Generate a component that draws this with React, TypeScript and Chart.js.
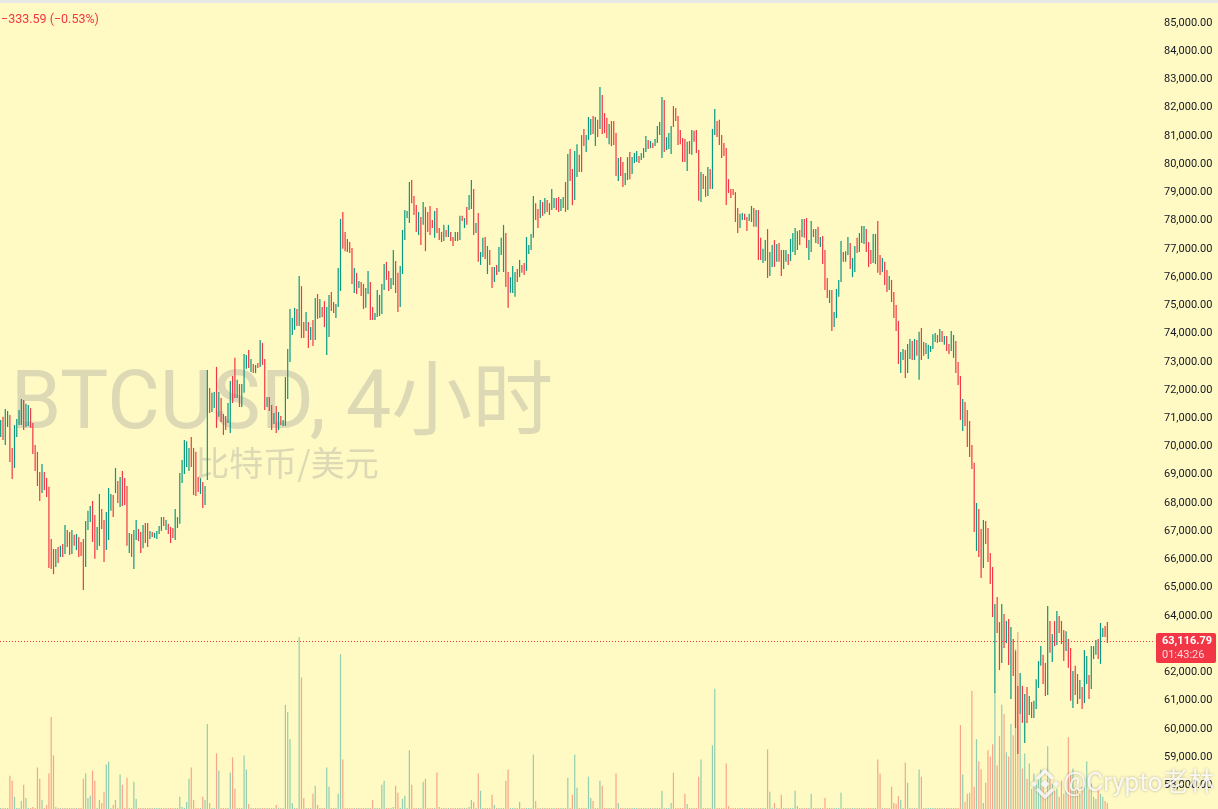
import React, { useEffect, useRef } from "react";
import { Chart, registerables } from "chart.js";

Chart.register(...registerables);

// ---- data (4h BTCUSD candles, oldest -> newest) ----
const highs = [
  70940, 71050, 71330, 71260, 71120, 69950, 70760, 70970, 71290, 71680,
  71650, 71510, 71470, 71360, 70830, 70050, 69810, 69100, 69380, 69100,
  68880, 68570, 66720, 66370, 66370, 66440, 66480, 66550, 67220, 67040,
  66970, 67040, 66870, 66900, 66790, 66620, 66720, 67360, 67720, 67890,
  68070, 67570, 67150, 68320, 67790, 67400, 67680, 68530, 68320, 68280,
  69240, 68780, 68920, 69130, 68880, 68600, 66940, 66900, 67040, 67400,
  67080, 66970, 67220, 67290, 67290, 67010, 66970, 66940, 67010, 67180,
  67500, 67500, 67400, 67260, 67150, 67110, 67790, 67500, 69060, 69520,
  70230, 70190, 69950, 70340, 69950, 69810, 68920, 68880, 68740, 68600,
  72710, 72070, 71900, 71930, 72820, 71930, 71720, 71150, 71080, 71540,
  72320, 72500, 73140, 72360, 72210, 72210, 73280, 73240, 73420, 73100,
  72920, 72890, 72960, 73770, 73670, 73100, 71750, 71750, 71470, 71190,
  71430, 71220, 71080, 70940, 72460, 73450, 74870, 74550, 74910, 74870,
  76040, 75680, 74410, 74760, 74410, 74230, 74480, 75260, 75400, 75220,
  74940, 75150, 74940, 75370, 75470, 75120, 75050, 76320, 78060, 78310,
  77600, 77350, 77240, 77030, 76320, 76150, 75860, 75830, 75760, 75610,
  76220, 75830, 74940, 74730, 75540, 75370, 75760, 76460, 76540, 76220,
  75970, 76960, 76570, 76150, 76390, 77670, 78380, 78340, 79370, 79440,
  78870, 78550, 78310, 78130, 78660, 78480, 78310, 78520, 78020, 78340,
  78450, 77740, 77600, 77850, 77670, 77850, 77600, 77420, 77600, 77600,
  78170, 78170, 78090, 78480, 78910, 79440, 79120, 77920, 78270, 76890,
  77390, 77420, 77100, 76960, 76360, 76360, 76430, 77070, 77390, 77850,
  77560, 76180, 76000, 76390, 76180, 76290, 76610, 76430, 76500, 77420,
  77140, 77530, 78870, 78620, 78410, 78730, 78660, 78800, 78730, 78620,
  79120, 78800, 78800, 78840, 78770, 78840, 79370, 80360, 80540, 79830,
  80470, 80710, 80330, 81030, 81250, 81030, 81670, 81600, 81710, 81670,
  81570, 82730, 82450, 81810, 81640, 81420, 81530, 81530, 81100, 80220,
  80250, 80080, 79690, 80250, 80430, 80250, 80400, 80470, 80290, 80400,
  80570, 81000, 80860, 80820, 80750, 80890, 81350, 81490, 82380, 82270,
  80960, 81100, 81350, 82060, 81990, 81710, 81210, 80930, 80890, 80790,
  80820, 81210, 81180, 81210, 80500, 79720, 79650, 79580, 79900, 79830,
  81250, 81950, 81530, 81570, 81030, 80750, 80570, 79470, 79120, 79120,
  79010, 78450, 78240, 78270, 78240, 78130, 78240, 78520, 78450, 78380,
  78380, 77390, 77000, 77310, 77700, 76890, 77140, 77310, 77170, 77210,
  76960, 76960, 76960, 76820, 77350, 77560, 77740, 77630, 77670, 78060,
  78060, 78090, 77310, 77990, 77700, 77700, 77780, 77420, 77460, 76960,
  75970, 75540, 75540, 74760, 75580, 75900, 77280, 76890, 76920, 77420,
  77210, 76680, 77100, 77390, 77560, 77810, 77810, 77700, 77240, 76960,
  77530, 77530, 77990, 76780, 76680, 76540, 76250, 76040, 75900, 75470,
  75010, 74450, 73350, 73450, 73420, 73630, 73810, 73740, 73810, 73770,
  74060, 74200, 73700, 73670, 73600, 73560, 73980, 74020, 73950, 74160,
  74090, 73910, 73910, 73630, 74090, 73950, 73740, 72990, 72500, 71680,
  71580, 71290, 70900, 70050, 69420, 68000, 67790, 67080, 67400, 67360,
  67110, 66230, 65730, 64420, 64670, 63780, 64420, 64070, 63820, 63890,
  63610, 63180, 62760, 61520, 61980, 61520, 61230, 61480, 61160, 60950,
  60990, 61760, 62400, 62930, 62620, 62330, 64350, 63820, 63360, 63820,
  64170, 64000, 63820, 63500, 63460, 63180, 62860, 62050, 62230, 61940,
  61730, 61480, 62790, 62580, 61910, 62930, 62930, 63150, 63180, 63750,
  63570, 63640, 63780,
];

const lows = [
  70340, 70230, 70050, 70690, 69450, 68850, 69240, 70340, 70760, 70760,
  70580, 70690, 70730, 70660, 69730, 69130, 68600, 68070, 68350, 68460,
  68210, 65700, 65660, 65480, 65730, 65870, 66090, 66090, 66190, 66440,
  66160, 66190, 66480, 66330, 66090, 66120, 64920, 65730, 67040, 67330,
  66620, 66020, 66330, 66480, 67080, 65910, 66330, 66690, 67720, 67500,
  68350, 68000, 67860, 67890, 67930, 66480, 66230, 66090, 65660, 66690,
  66650, 66230, 66400, 66580, 66440, 66720, 66790, 66760, 66720, 66900,
  67010, 67180, 67040, 66900, 66580, 66760, 66690, 67110, 67260, 68710,
  69030, 69270, 69130, 69270, 68280, 68250, 68390, 68320, 67820, 67930,
  68810, 71190, 71220, 71360, 70660, 71050, 70870, 70410, 70580, 70830,
  70480, 71540, 71720, 71720, 71400, 71400, 71900, 72750, 72780, 72640,
  72600, 72600, 72780, 72820, 72890, 71290, 71400, 71260, 70580, 70800,
  70480, 70580, 70760, 70730, 70730, 71680, 72990, 73950, 74130, 74270,
  74270, 73840, 73840, 74090, 73490, 73770, 73560, 73770, 74520, 74550,
  74590, 74230, 73240, 73880, 74800, 74730, 74550, 74940, 75510, 77000,
  76920, 76890, 76850, 75760, 75440, 75400, 75610, 75330, 74870, 74910,
  75400, 74480, 74480, 74480, 74590, 74620, 74690, 75540, 75900, 75510,
  75580, 75720, 75440, 74760, 74940, 76110, 77310, 78090, 77920, 78620,
  78200, 77600, 77490, 77140, 77850, 76920, 77600, 77490, 77740, 77390,
  77560, 77310, 77240, 77280, 77420, 77420, 77280, 77100, 77280, 77280,
  77310, 77990, 77740, 77850, 78380, 78410, 77490, 77560, 76540, 76430,
  76710, 76640, 76110, 76430, 75610, 75830, 76070, 76180, 76780, 76180,
  75650, 74910, 75440, 75440, 75300, 75830, 76000, 76150, 76070, 76220,
  76820, 76960, 77390, 78020, 77740, 78090, 78170, 78240, 78310, 78200,
  78380, 78450, 78380, 78310, 78340, 78450, 78310, 78380, 79400, 78550,
  78730, 79550, 79720, 79720, 80640, 80430, 80860, 81030, 81070, 80640,
  80960, 81250, 81070, 81100, 80930, 80710, 80640, 80680, 79580, 79400,
  79580, 79190, 79260, 79440, 79470, 79650, 80040, 80080, 80040, 80150,
  80220, 80430, 80540, 80570, 80570, 80640, 80750, 81030, 80220, 80430,
  80500, 80540, 80360, 81320, 81530, 80680, 80710, 80080, 80080, 79760,
  80360, 80330, 80790, 80400, 78700, 78660, 79120, 78840, 78870, 79120,
  79120, 81030, 80960, 80680, 80220, 80290, 78550, 78980, 78800, 78910,
  77950, 77560, 77740, 78020, 78020, 77630, 77990, 77950, 77780, 77780,
  76610, 76610, 76500, 76570, 75970, 76040, 76360, 76360, 76540, 76540,
  76040, 76290, 76540, 76430, 76570, 76890, 76780, 76960, 77140, 77420,
  77390, 77030, 76610, 76890, 77420, 77210, 77170, 77070, 76460, 75540,
  75260, 75080, 74090, 74230, 74550, 75300, 75830, 76540, 76540, 76780,
  76290, 76000, 76180, 76850, 76890, 77210, 77170, 76890, 76360, 76460,
  76500, 76460, 76150, 76070, 76180, 75720, 75470, 75540, 75120, 74550,
  74090, 72920, 72600, 73060, 72430, 72600, 73100, 73060, 73060, 73210,
  72360, 73060, 73210, 73280, 73100, 73350, 73450, 73700, 73670, 73700,
  73700, 73600, 73380, 73280, 73380, 73140, 72600, 72180, 70940, 70550,
  70730, 69980, 69630, 69200, 66970, 66300, 66090, 65340, 65700, 66550,
  65910, 65130, 63960, 61270, 63390, 62080, 62330, 62860, 63040, 62260,
  61060, 61870, 60030, 59110, 60530, 60210, 59500, 60210, 60490, 60380,
  60380, 60700, 61450, 62230, 61590, 61160, 61200, 62690, 62370, 62930,
  62970, 63390, 63000, 62400, 62760, 62160, 60990, 60740, 61200, 60880,
  61060, 60700, 60910, 61590, 61060, 61410, 62470, 62620, 62470, 62300,
  63250, 63250, 63040,
];

// U = close above open, D = close below open
const trend =
  "UDUUDDUUUU" + "DUUDDDDDUD" + "DDDDUDUDUD" + "DUDUDDDUUU" + "DDUUDDUUUD" +
  "UDUDDDUDUU" + "DDUDDUDUUU" + "UDUDDDUUUU" + "UUUDDDDUDU" + "UDUUDUDDDU" +
  "UDDUDUUUDU" + "DUDUDDUDDU" + "DUDUUUUUUD" + "UDDUDUDUDU" + "DDUUDDUUUD" +
  "DDDDUDUDDU" + "UDDUUUUUDD" + "UUDDUUUUUD" + "DDUDUDDDDU" + "DDDUDUDDUD" +
  "UDUDUUDUDU" + "UDUDDUDUUU" + "DDUUUDUDDU" + "UUUDDUDUDD" + "UUDDUUDUDD" +
  "UUDDDUUUDU" + "DUDDDUDDDU" + "DDUUDUUUDU" + "UUDUDUUUUD" + "UUUDDDDDDU" +
  "DUDDDUDDUD" + "UUDDDDDDDD" + "DDUUDDUUDU" + "DDUUDUUDUD" + "DUUDUUUUDU" +
  "DDUUDUDUDD" + "DUDUUUUDUU" + "DUUDUUUDDD" + "UUDDUDDUDD" + "DDUUDUUDUD" +
  "UDDUUUUUDU" + "DUDDUUDDDU" + "DDDDDUDDUD" + "DDDUDDUDUD" + "UDDDUDUDUD" +
  "UUUUDDUDUD" + "UDDDUDDUDD" + "UDUUDUUUDU" + "UDD";

const volumes = [
  1, 1, 1, 1, 33, 28, 12, 1, 1, 8,
  24, 11, 1, 1, 2, 1, 41, 30, 9, 1,
  4, 35, 91, 53, 2, 1, 1, 1, 1, 1,
  1, 1, 1, 1, 1, 1, 30, 35, 11, 13,
  38, 28, 1, 9, 6, 17, 44, 47, 1, 4,
  9, 1, 34, 24, 1, 31, 1, 1, 27, 10,
  1, 1, 1, 1, 1, 1, 1, 1, 1, 1,
  1, 1, 1, 1, 1, 1, 1, 1, 12, 2,
  1, 7, 30, 41, 9, 1, 1, 1, 12, 9,
  84, 6, 1, 1, 55, 38, 1, 1, 1, 1,
  36, 51, 20, 1, 1, 1, 53, 39, 5, 1,
  1, 1, 1, 1, 1, 1, 1, 1, 1, 1,
  4, 1, 1, 1, 103, 96, 69, 6, 1, 1,
  170, 130, 11, 1, 1, 1, 15, 23, 4, 1,
  1, 1, 41, 22, 1, 1, 1, 15, 153, 49,
  1, 1, 1, 1, 1, 1, 1, 1, 1, 1,
  1, 1, 9, 1, 1, 1, 24, 28, 1, 1,
  1, 2, 23, 16, 1, 10, 13, 1, 58, 24,
  1, 1, 1, 1, 27, 30, 1, 1, 1, 1,
  36, 2, 1, 1, 1, 1, 1, 1, 1, 1,
  1, 1, 1, 1, 2, 9, 7, 1, 35, 18,
  1, 1, 1, 1, 14, 4, 1, 1, 1, 1,
  28, 39, 1, 1, 1, 1, 7, 1, 1, 1,
  1, 1, 54, 8, 1, 1, 1, 1, 1, 1,
  1, 1, 1, 1, 1, 1, 1, 31, 1, 14,
  54, 21, 1, 1, 1, 1, 32, 11, 8, 1,
  1, 28, 23, 1, 1, 1, 1, 1, 35, 6,
  1, 1, 1, 1, 1, 1, 1, 1, 1, 1,
  1, 1, 1, 1, 1, 1, 1, 1, 18, 1,
  1, 1, 6, 36, 1, 1, 1, 1, 15, 5,
  1, 1, 1, 1, 32, 49, 1, 1, 1, 1,
  63, 119, 1, 1, 1, 1, 45, 3, 1, 1,
  1, 1, 1, 1, 1, 1, 1, 1, 1, 1,
  1, 1, 1, 1, 59, 17, 1, 6, 1, 1,
  14, 1, 1, 1, 1, 1, 18, 3, 1, 1,
  1, 1, 1, 15, 1, 1, 1, 1, 1, 11,
  1, 1, 1, 1, 1, 1, 16, 1, 1, 1,
  1, 1, 1, 1, 1, 1, 1, 1, 1, 1,
  1, 1, 49, 35, 1, 1, 1, 1, 22, 6,
  5, 13, 9, 1, 46, 26, 1, 1, 1, 1,
  39, 32, 1, 1, 1, 1, 1, 1, 1, 1,
  1, 1, 1, 1, 1, 1, 1, 1, 83, 34,
  7, 15, 16, 117, 22, 69, 47, 39, 6, 26,
  58, 52, 64, 116, 43, 72, 103, 94, 56, 52,
  84, 73, 158, 175, 95, 40, 55, 30, 45, 20,
  35, 25, 30, 39, 22, 15, 62, 30, 25, 18,
  20, 12, 28, 15, 18, 71, 35, 40, 20, 25,
  15, 22, 30, 47, 19, 25, 12, 10, 20, 15,
  12, 8, 6,
];

// price axis labels
const priceTicks = [
  58000, 59000, 60000, 61000, 62000, 63000, 64000, 65000, 66000, 67000,
  68000, 69000, 70000, 71000, 72000, 73000, 74000, 75000, 76000, 77000,
  78000, 79000, 80000, 81000, 82000, 83000, 84000, 85000,
];

const lastPrice = 63116.79;
const changeText = "\u2212333.59 (\u22120.53%)";
const countdown = "01:43:26";
const symbolTitle = "BTCUSD, 4小时";
const symbolDesc = "比特币/美元";
const author = "@Crypto老林";

const UP = "#089981";
const DOWN = "#F23645";
const UP_VOL = "rgba(38,166,154,0.5)";
const DOWN_VOL = "rgba(239,83,80,0.5)";
const BG = "#FFF9C4";

export default function App() {
  const ref = useRef<HTMLCanvasElement | null>(null);

  useEffect(() => {
    const canvas = ref.current;
    if (!canvas) return;

    const candleData = highs.map((h, i) => ({ x: i, y: [lows[i], h] }));
    const volData = volumes.map((v, i) => ({ x: i, y: v }));
    const candleColors = highs.map((_, i) => (trend[i] === "U" ? UP : DOWN));
    const volColors = highs.map((_, i) => (trend[i] === "U" ? UP_VOL : DOWN_VOL));

    const fmt = (v: number) =>
      v.toLocaleString("en-US", { minimumFractionDigits: 2, maximumFractionDigits: 2 });

    const deco = {
      id: "deco",
      beforeDraw(chart: any) {
        const { ctx, width, height } = chart;
        ctx.save();
        ctx.fillStyle = BG;
        ctx.fillRect(0, 0, width, height);
        ctx.restore();
      },
      beforeDatasetsDraw(chart: any) {
        const { ctx } = chart;
        ctx.save();
        ctx.fillStyle = "#DDD9B5";
        ctx.textAlign = "center";
        ctx.textBaseline = "alphabetic";
        ctx.font = "81px Roboto, 'Noto Sans CJK SC', sans-serif";
        ctx.fillText(symbolTitle, 282, 428);
        ctx.font = "34px 'Noto Sans CJK SC', sans-serif";
        ctx.fillText(symbolDesc, 287, 476);
        ctx.restore();
      },
      afterDatasetsDraw(chart: any) {
        const { ctx, chartArea } = chart;
        const y = Math.round(chart.scales.y.getPixelForValue(lastPrice)) + 0.5;
        ctx.save();
        ctx.strokeStyle = DOWN;
        ctx.lineWidth = 1;
        ctx.setLineDash([1, 2]);
        ctx.beginPath();
        ctx.moveTo(0, y);
        ctx.lineTo(chartArea.right, y);
        ctx.stroke();
        ctx.restore();
      },
      afterDraw(chart: any) {
        const { ctx, width } = chart;
        const y = Math.round(chart.scales.y.getPixelForValue(lastPrice));
        ctx.save();
        // top strip
        ctx.fillStyle = "#E8E8E6";
        ctx.fillRect(0, 0, width, 3);
        // change text
        ctx.fillStyle = DOWN;
        ctx.font = "12.5px Roboto, sans-serif";
        ctx.textAlign = "left";
        ctx.textBaseline = "middle";
        ctx.fillText(changeText, 1, 19.5);
        // price box
        ctx.fillStyle = DOWN;
        ctx.beginPath();
        ctx.roundRect(1156, y - 8, 60, 30, 2);
        ctx.fill();
        ctx.fillStyle = "#FFFFFF";
        ctx.font = "bold 11px Roboto, sans-serif";
        ctx.fillText(fmt(lastPrice), 1162, y + 0.5);
        ctx.fillStyle = "rgba(255,255,255,0.8)";
        ctx.font = "11px Roboto, sans-serif";
        ctx.fillText(countdown, 1162, y + 14.5);
        // author watermark
        ctx.shadowColor = "rgba(0,0,0,0.35)";
        ctx.shadowBlur = 3;
        ctx.fillStyle = "rgba(255,255,255,0.85)";
        ctx.font = "26px Roboto, 'Noto Sans CJK SC', sans-serif";
        ctx.fillText(author, 1063, 784);
        // logo
        const cx = 1045, cy = 784;
        const diamond = (x: number, yy: number, r: number) => {
          ctx.beginPath();
          ctx.moveTo(x, yy - r);
          ctx.lineTo(x + r, yy);
          ctx.lineTo(x, yy + r);
          ctx.lineTo(x - r, yy);
          ctx.closePath();
          ctx.fill();
        };
        diamond(cx, cy, 4.5);
        diamond(cx - 11, cy, 3.2);
        diamond(cx + 11, cy, 3.2);
        ctx.strokeStyle = "rgba(255,255,255,0.85)";
        ctx.lineWidth = 3.2;
        ctx.beginPath();
        ctx.moveTo(cx - 8, cy - 5);
        ctx.lineTo(cx, cy - 13);
        ctx.lineTo(cx + 8, cy - 5);
        ctx.stroke();
        ctx.beginPath();
        ctx.moveTo(cx - 8, cy + 5);
        ctx.lineTo(cx, cy + 13);
        ctx.lineTo(cx + 8, cy + 5);
        ctx.stroke();
        ctx.restore();
      },
    };

    const chart = new Chart(canvas, {
      type: "bar",
      data: {
        datasets: [
          {
            label: "BTCUSD",
            data: candleData as any,
            backgroundColor: candleColors,
            borderWidth: 0,
            barThickness: 1.2,
            grouped: false,
            inflateAmount: 0,
            order: 0,
            yAxisID: "y",
          } as any,
          {
            label: "Volume",
            data: volData as any,
            backgroundColor: volColors,
            borderWidth: 0,
            barThickness: 1.2,
            grouped: false,
            inflateAmount: 0,
            order: 1,
            yAxisID: "yv",
          } as any,
        ],
      },
      options: {
        animation: false,
        responsive: false,
        events: [],
        layout: { padding: 0 },
        plugins: { legend: { display: false }, tooltip: { enabled: false } },
        scales: {
          x: { type: "linear", display: false, min: -0.305, max: 502.745, offset: false },
          y: {
            position: "right",
            min: 57160,
            max: 85815,
            grid: { display: false, drawTicks: false },
            border: { display: false },
            afterBuildTicks: (s: any) => {
              s.ticks = priceTicks.map((v) => ({ value: v }));
            },
            ticks: {
              autoSkip: false,
              padding: 9,
              color: "#131722",
              font: { size: 11, family: "Roboto" },
              callback: (v: any) => fmt(Number(v)),
            },
            afterFit: (s: any) => {
              s.width = 63;
              s.paddingTop = 0;
              s.paddingBottom = 0;
            },
          },
          yv: { display: false, min: 0, max: 800 },
        },
      } as any,
      plugins: [deco],
    });

    return () => chart.destroy();
  }, []);

  return (
    <div style={{ position: "fixed", left: 0, top: 0, width: 1218, height: 809 }}>
      <canvas ref={ref} width={1218} height={809} style={{ display: "block" }} />
    </div>
  );
}
